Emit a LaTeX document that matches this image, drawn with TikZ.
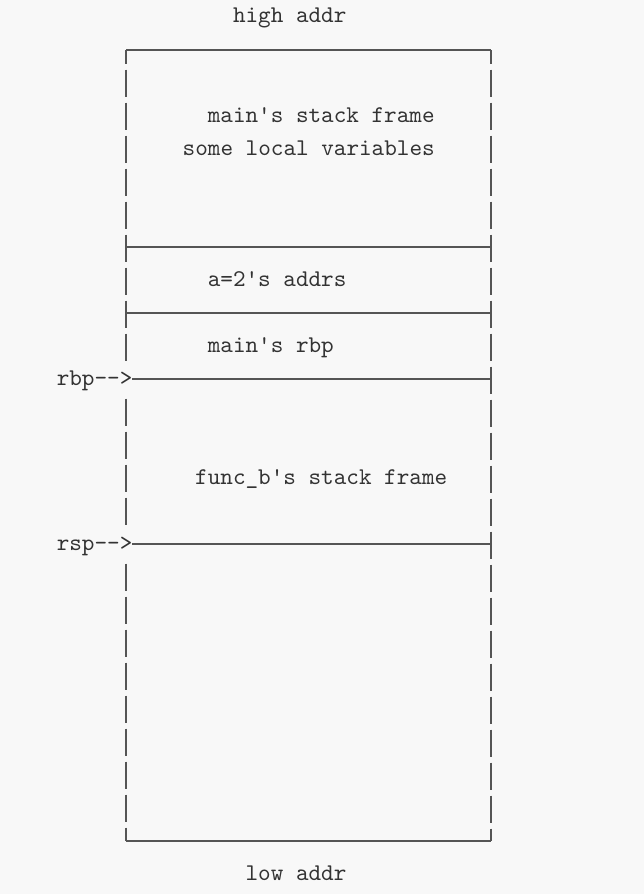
\documentclass[tikz,border=0pt]{standalone}
\usepackage{fontspec}
\setmonofont{lmmono10-regular.otf}
\definecolor{bgc}{HTML}{F8F8F8}
\definecolor{ink}{HTML}{333333}
\definecolor{rulec}{HTML}{555555}
\begin{document}
\begin{tikzpicture}[x=1pt,y=-1pt,
  lbl/.style={anchor=base west,inner sep=0pt,outer sep=0pt,text=ink,font=\ttfamily\fontsize{24}{28}\selectfont},
  hline/.style={draw=rulec,line width=1.5pt},
  vbar/.style={draw=rulec,line width=1.5pt,dash pattern=on 27pt off 6pt}]
\fill[bgc] (0,0) rectangle (644,894);
\useasboundingbox (0,0) rectangle (644,894);
% labels
\node[lbl] (high) at (233.0,23) {high addr};
\node[lbl] (mainsf) at (207.8,122) {main's stack frame};
\node[lbl] (locals) at (182.7,155) {some local variables};
\node[lbl] (aaddr) at (207.8,286) {a=2's addrs};
\node[lbl] (mainrbp) at (207.8,352) {main's rbp};
\node[lbl] (funcb) at (195.2,484) {func\_b's stack frame};
\node[lbl] (rbp) at (56.75,385) {rbp-{}->};
\node[lbl] (rsp) at (56.75,550) {rsp-{}->};
\node[lbl] (low) at (245.6,880) {low addr};
% box coordinates
\coordinate (TL) at (126,50);
\coordinate (TR) at (491,50);
\coordinate (BL) at (126,841);
\coordinate (BR) at (491,841);
\coordinate (s1L) at (126,247);
\coordinate (s1R) at (491,247);
\coordinate (s2L) at (126,313);
\coordinate (s2R) at (491,313);
\coordinate (rbpR) at (491,379);
\coordinate (rspR) at (491,544);
\coordinate (lA) at (126,362);
\coordinate (lB) at (126,398.5);
\coordinate (lC) at (126,528);
\coordinate (lD) at (126,563.5);
% horizontals
\draw[hline] (TL) -- (TR);
\draw[hline] (BL) -- (BR);
\draw[hline] (s1L) -- (s1R);
\draw[hline] (s2L) -- (s2R);
\draw[hline] (rbp.east |- rbpR) -- (rbpR);
\draw[hline] (rsp.east |- rspR) -- (rspR);
% verticals
\draw[vbar,dash phase=13.5pt] (TL) -- (lA);
\draw[vbar] (lB) -- (lC);
\draw[vbar] (lD) -- (BL);
\draw[vbar,dash phase=13.5pt] (TR) -- (BR);
\end{tikzpicture}
\end{document}
